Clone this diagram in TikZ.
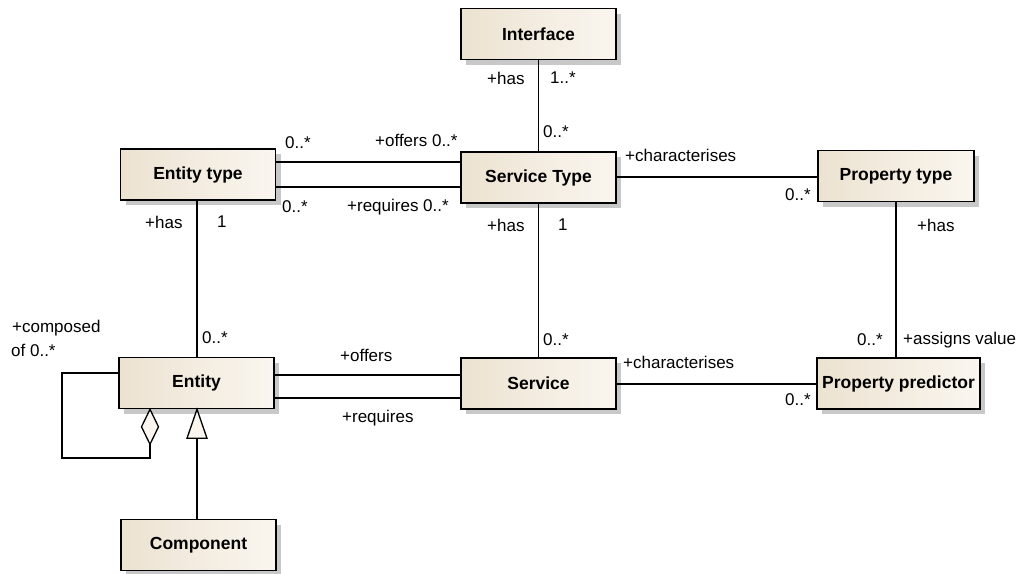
\documentclass[tikz,border=0pt]{standalone}
\usepackage{fontspec}
\setmainfont{Liberation Sans}
\usetikzlibrary{shadows}
\definecolor{boxL}{RGB}{236,226,209}
\definecolor{boxR}{RGB}{250,246,239}
\definecolor{shadowgray}{RGB}{200,200,200}
\begin{document}
\begin{tikzpicture}[x=1pt,y=-1pt,
  cls/.style={draw=black, line width=1.6pt, left color=boxL, right color=boxR,
    minimum width=155pt, minimum height=51pt, inner sep=0pt,
    font=\fontsize{17.5}{20}\selectfont\bfseries,
    drop shadow={shadow xshift=5pt, shadow yshift=-5pt, fill=shadowgray, opacity=1}},
  conn/.style={line width=1.3pt},
  lbl/.style={font=\fontsize{17}{20}\selectfont, inner sep=0pt, anchor=west}
]
\useasboundingbox (0,0) rectangle (1022,573);

% classes
\node[cls] (iface) at (538.5,34) {Interface};
\node[cls] (stype) at (538.5,177.5) {Service Type};
\node[cls] (etype) at (198,174.5) {Entity type};
\node[cls, minimum width=156pt] (ptype) at (896,176) {Property type};
\node[cls, minimum width=163pt] (ppred) at (898.5,383.5) {Property predictor};
\node[cls] (entity) at (196.5,383) {Entity};
\node[cls] (service) at (538.5,383.5) {Service};
\node[cls] (comp) at (198.5,545) {Component};

% associations
\draw[conn] (iface.south) -- (stype.north);
\draw[conn] (etype.east |- 0,162) -- (stype.west |- 0,162);
\draw[conn] (etype.east |- 0,187) -- (stype.west |- 0,187);
\draw[conn] (stype.east |- 0,177) -- (ptype.west |- 0,177);
\draw[conn] (stype.south) -- (service.north);
\draw[conn] (etype.south -| 197,0) -- (entity.north -| 197,0);
\draw[conn] (entity.east |- 0,375) -- (service.west |- 0,375);
\draw[conn] (entity.east |- 0,398) -- (service.west |- 0,398);
\draw[conn] (service.east |- 0,384) -- (ppred.west |- 0,384);
\draw[conn] (ptype.south -| 896,0) -- (ppred.north -| 896,0);

% aggregation (self)
\coordinate (dtop) at (entity.south -| 150,0);
\draw[conn, fill=boxR] (dtop) -- ++(8.5,17.5) -- ++(-8.5,17.5) coordinate (dbot)
  -- ++(-8.5,-17.5) -- cycle;
\draw[conn] (entity.west |- 0,373) -| (62,458) -| (dbot);

% generalisation
\coordinate (ttop) at (entity.south -| 197,0);
\draw[conn, fill=boxR] (ttop) -- ++(10,29) -- ++(-20,0) -- cycle;
\coordinate (tbase) at ([yshift=-29pt]ttop);
\draw[conn] (tbase) -- (comp.north -| tbase);

% role names and multiplicities
\node[lbl] (l1) at (487,78) {+has};
\node[lbl] (l2) at (550,78) {1..*};
\node[lbl] (l3) at (543,132) {0..*};
\node[lbl] (l4) at (375,140) {+offers 0..*};
\node[lbl] (l5) at (285,143) {0..*};
\node[lbl] (l6) at (282,207) {0..*};
\node[lbl] (l7) at (347,207) {+requires 0..*};
\node[lbl] (l8) at (487,225) {+has};
\node[lbl] (l9) at (558,225) {1};
\node[lbl] (l10) at (145,222) {+has};
\node[lbl] (l11) at (217,222) {1};
\node[lbl] (l12) at (202,338) {0..*};
\node[lbl] (l13) at (12,328) {+composed};
\node[lbl] (l14) at (11,350) {of 0..*};
\node[lbl] (l15) at (340,355) {+offers};
\node[lbl] (l16) at (342,418) {+requires};
\node[lbl] (l17) at (543,340) {0..*};
\node[lbl] (l18) at (625,155) {+characterises};
\node[lbl] (l19) at (785,195) {0..*};
\node[lbl] (l20) at (917,225) {+has};
\node[lbl] (l21) at (623,362) {+characterises};
\node[lbl] (l22) at (857,340) {0..*};
\node[lbl] (l23) at (903,340) {+assigns value};
\node[lbl] (l24) at (785,400) {0..*};
\end{tikzpicture}
\end{document}
